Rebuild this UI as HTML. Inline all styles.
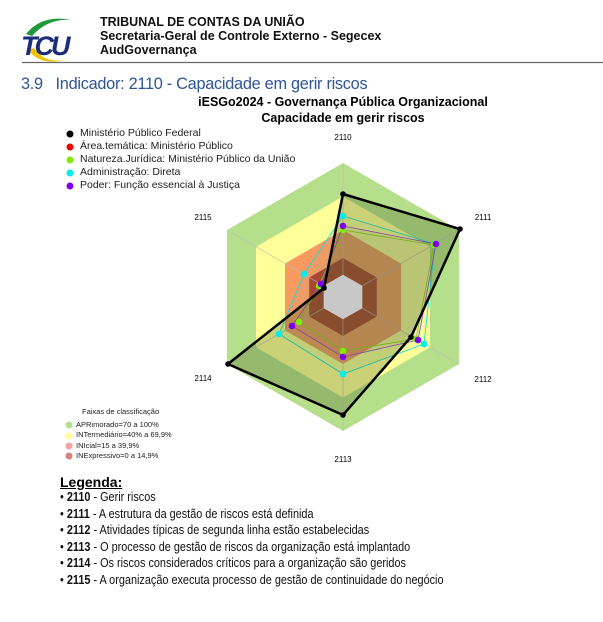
<!DOCTYPE html>
<html><head><meta charset="utf-8"><style>
body{margin:0;width:603px;height:622px;background:#fff;position:relative;overflow:hidden;font-family:"Liberation Sans",Arial,sans-serif;}
.a{position:absolute;white-space:nowrap;}
</style></head><body>
<svg class="a" style="left:0;top:0" width="603" height="622">
  <!-- logo -->
  <path d="M26 34 Q42 14 72 20 Q48 18 32 36Z" fill="#1e9a3a"/>
  <path d="M28 50 Q42 68 70 58 Q46 66 34 48Z" fill="#f2c200"/>
  <text x="21" y="55" font-family="Liberation Sans" font-weight="bold" font-style="italic" font-size="27" fill="#1b2c7a" letter-spacing="-3">TCU</text>
  <line x1="22" y1="62.5" x2="603" y2="62.5" stroke="#666" stroke-width="1.2"/>
  <!-- rings -->
  <polygon points="343,163 459,230 459,364 343,431 227,364 227,230" fill="#b6df8c"/>
  <polygon points="343,196.5 430,246.7 430,347.3 343,397.5 256,347.3 256,246.7" fill="#ffff99"/>
  <polygon points="343,230 401,263.5 401,330.5 343,364 285,330.5 285,263.5" fill="#f99b60"/>
  <polygon points="343,258 376.8,277.5 376.8,316.5 343,336 309.2,316.5 309.2,277.5" fill="#b0402a"/>
  <g stroke="#bbb" stroke-width="0.6">
    <line x1="343" y1="297" x2="343" y2="163"/><line x1="343" y1="297" x2="459" y2="230"/><line x1="343" y1="297" x2="459" y2="364"/>
    <line x1="343" y1="297" x2="343" y2="431"/><line x1="343" y1="297" x2="227" y2="364"/><line x1="343" y1="297" x2="227" y2="230"/>
  </g>
  <!-- series -->
  <polygon points="343,216 435,244 424,344 343,374 279,334 304,274" fill="rgba(0,200,200,0.05)" stroke="#00e0e0" stroke-width="0.8"/>
  <polygon points="343,230 434,245 416,339 343,351 299,322 319,286" fill="rgba(120,220,0,0.05)" stroke="#7fe000" stroke-width="0.8"/>
  <polygon points="343,226 436,244 418,340 343,357 292,326 321,284" fill="rgba(140,0,220,0.05)" stroke="#9a40d0" stroke-width="0.8"/>
  <polygon points="343,194 460,229 411,337 343,415 228,364 324,288" fill="rgba(70,90,30,0.28)" stroke="none"/>
  <polygon points="343,274.7 362.3,285.8 362.3,308.2 343,319.3 323.7,308.2 323.7,285.8" fill="#c8c8c8"/>
  <polygon points="343,194 460,229 411,337 343,415 228,364 324,288" fill="none" stroke="#000" stroke-width="2.5"/>
  <g fill="#00eeee"><circle cx="343" cy="216" r="3.3"/><circle cx="435" cy="244" r="3.3"/><circle cx="424" cy="344" r="3.3"/><circle cx="343" cy="374" r="3.3"/><circle cx="279" cy="334" r="3.3"/><circle cx="304" cy="274" r="3.3"/></g>
  <g fill="#80ee00"><circle cx="343" cy="230" r="3.3"/><circle cx="434" cy="245" r="3.3"/><circle cx="416" cy="339" r="3.3"/><circle cx="343" cy="351" r="3.3"/><circle cx="299" cy="322" r="3.3"/><circle cx="319" cy="286" r="3.3"/></g>
  <g fill="#8000ee"><circle cx="343" cy="226" r="3.3"/><circle cx="436" cy="244" r="3.3"/><circle cx="418" cy="340" r="3.3"/><circle cx="343" cy="357" r="3.3"/><circle cx="292" cy="326" r="3.3"/><circle cx="321" cy="284" r="3.3"/></g>
  <g fill="#000"><circle cx="343" cy="194" r="2.8"/><circle cx="460" cy="229" r="2.8"/><circle cx="411" cy="337" r="2.8"/><circle cx="343" cy="415" r="2.8"/><circle cx="228" cy="364" r="2.8"/><circle cx="324" cy="288" r="2.8"/></g>
  <g font-family="Liberation Sans" font-size="8" fill="#000" text-anchor="middle">
    <text x="343" y="140">2110</text><text x="483" y="220">2111</text><text x="483" y="382">2112</text>
    <text x="343" y="462">2113</text><text x="203" y="381">2114</text><text x="203" y="220">2115</text>
  </g>
  <!-- legend dots -->
  <circle cx="70" cy="134" r="3.5" fill="#000"/><circle cx="70" cy="147" r="3.5" fill="#ee0000"/>
  <circle cx="70" cy="160" r="3.5" fill="#80ee00"/><circle cx="70" cy="173" r="3.5" fill="#00eeee"/><circle cx="70" cy="186" r="3.5" fill="#8000ee"/>
  <circle cx="69" cy="425" r="3.5" fill="#b6df8c"/><circle cx="69" cy="436" r="3.5" fill="#ffff99"/>
  <circle cx="69" cy="446" r="3.5" fill="#f9a0a0"/><circle cx="69" cy="456" r="3.5" fill="#d98080"/>
</svg>
<div class="a" style="left:100px;top:15px;font-size:12.5px;font-weight:bold;line-height:14px;color:#111">TRIBUNAL DE CONTAS DA UNIÃO<br>Secretaria-Geral de Controle Externo - Segecex<br>AudGovernança</div>
<div class="a" style="left:21px;top:74px;font-size:17px;color:#2f5597;letter-spacing:-0.3px;transform:scaleX(0.96);transform-origin:left">3.9&nbsp;&nbsp;&nbsp;Indicador: 2110 - Capacidade em gerir riscos</div>
<div class="a" style="left:170px;width:346px;top:94px;text-align:center;font-size:12.5px;font-weight:bold;line-height:16px">iESGo2024 - Governança Pública Organizacional<br>Capacidade em gerir riscos</div>
<div class="a" style="left:80px;top:127px;font-size:10.5px;line-height:13px;color:#222">Ministério Público Federal<br>Área.temática: Ministério Público<br>Natureza.Jurídica: Ministério Público da União<br>Administração: Direta<br>Poder: Função essencial à Justiça</div>
<div class="a" style="left:82px;top:407px;font-size:7.5px;color:#222">Faixas de classificação</div>
<div class="a" style="left:76px;top:420px;font-size:7.5px;line-height:10.3px;color:#222">APRimorado=70 a 100%<br>INTermediário=40% a 69,9%<br>INIcial=15 a 39,9%<br>INExpressivo=0 a 14,9%</div>
<div class="a" style="left:60px;top:474px;font-size:14px;font-weight:bold;text-decoration:underline">Legenda:</div>
<div class="a" style="left:60px;top:489px;font-size:12.5px;line-height:16.6px;color:#111;transform:scaleX(0.87);transform-origin:left">• <b>2110</b> - Gerir riscos<br>• <b>2111</b> - A estrutura da gestão de riscos está definida<br>• <b>2112</b> - Atividades típicas de segunda linha estão estabelecidas<br>• <b>2113</b> - O processo de gestão de riscos da organização está implantado<br>• <b>2114</b> - Os riscos considerados críticos para a organização são geridos<br>• <b>2115</b> - A organização executa processo de gestão de continuidade do negócio</div>
</body></html>
